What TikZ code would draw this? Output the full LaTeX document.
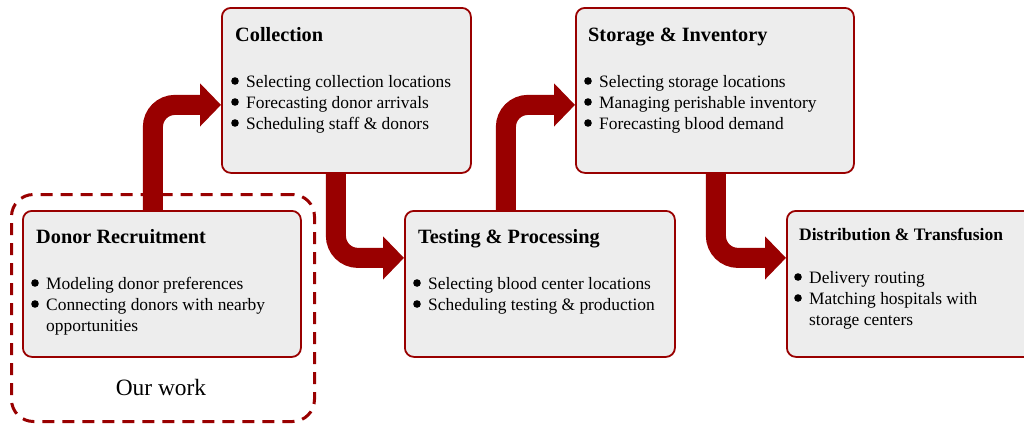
\documentclass[tikz,border=0pt]{standalone}
\usepackage{fontspec}
\setmainfont{Liberation Serif}
\usetikzlibrary{arrows.meta}
\definecolor{dred}{RGB}{153,0,0}
\definecolor{boxfill}{RGB}{237,237,237}
\tikzset{
  stage/.style={draw=dred, line width=1.8pt, fill=boxfill, rounded corners=9pt, anchor=north west, inner sep=0pt},
  ttl/.style={anchor=base west, font=\bfseries\fontsize{20.3}{22}\selectfont, inner sep=0pt},
  ttlsmall/.style={anchor=base west, font=\bfseries\fontsize{17.5}{19}\selectfont, inner sep=0pt},
  itm/.style={anchor=base west, font=\fontsize{17.4}{21}\selectfont, inner sep=0pt, align=left},
  bul/.style={circle, fill=black, minimum size=7.6pt, inner sep=0pt},
  flow/.style={draw=dred, line width=20pt, rounded corners=22pt, -{Triangle[length=21pt,width=42pt]}},
  ourbox/.style={draw=dred, line width=3pt, dash pattern=on 12pt off 8pt, rounded corners=22pt, anchor=north west, inner sep=0pt}
}
\begin{document}
\begin{tikzpicture}[x=1pt,y=1pt]
\useasboundingbox (0,0) rectangle (1024,-424);
% dashed frame
\node[ourbox, minimum width=303pt, minimum height=227pt] (frame) at (10,-193) {};
% boxes
\node[stage, minimum width=278pt, minimum height=146pt] (donor) at (22,-210) {};
\node[stage, minimum width=249pt, minimum height=165pt] (coll) at (221,-7) {};
\node[stage, minimum width=270pt, minimum height=146pt] (test) at (404,-210) {};
\node[stage, minimum width=278pt, minimum height=165pt] (stor) at (575,-7) {};
\node[stage, minimum width=260pt, minimum height=146pt] (dist) at (786,-210) {};
% arrows
\draw[flow] ([xshift=-9pt]donor.north) |- ([yshift=-14.5pt]coll.west);
\draw[flow] ([xshift=-10.5pt]coll.south) |- ([yshift=26pt]test.west);
\draw[flow] ([xshift=-34pt]test.north) |- ([yshift=-14.5pt]stor.west);
\draw[flow] ([xshift=1pt]stor.south) |- ([yshift=26pt]dist.west);
% Donor
\node[ttl] (t1) at (36,-243) {Donor Recruitment};
\node[bul] (b11) at (35,-283) {};
\node[itm] (i11) at (46,-289) {Modeling donor preferences};
\node[bul] (b12) at (35,-304) {};
\node[itm] (i12) at (46,-310) {Connecting donors with nearby};
\node[itm] (i13) at (46,-331) {opportunities};
\node[anchor=base, font=\fontsize{23.4}{26}\selectfont, inner sep=0pt] (our) at (161,-395) {Our work};
% Collection
\node[ttl] (t2) at (235,-41) {Collection};
\node[bul] (b21) at (235,-81) {};
\node[itm] (i21) at (246,-87) {Selecting collection locations};
\node[bul] (b22) at (235,-102) {};
\node[itm] (i22) at (246,-108) {Forecasting donor arrivals};
\node[bul] (b23) at (235,-123) {};
\node[itm] (i23) at (246,-129) {Scheduling staff \& donors};
% Testing
\node[ttl] (t3) at (418,-243) {Testing \& Processing};
\node[bul] (b31) at (417,-283) {};
\node[itm] (i31) at (428,-289) {Selecting blood center locations};
\node[bul] (b32) at (417,-304) {};
\node[itm] (i32) at (428,-310) {Scheduling testing \& production};
% Storage
\node[ttl] (t4) at (588,-41) {Storage \& Inventory};
\node[bul] (b41) at (588,-81) {};
\node[itm] (i41) at (599,-87) {Selecting storage locations};
\node[bul] (b42) at (588,-102) {};
\node[itm] (i42) at (599,-108) {Managing perishable inventory};
\node[bul] (b43) at (588,-123) {};
\node[itm] (i43) at (599,-129) {Forecasting blood demand};
% Distribution
\node[ttlsmall] (t5) at (799,-240) {Distribution \& Transfusion};
\node[bul] (b51) at (798,-277) {};
\node[itm] (i51) at (809,-283) {Delivery routing};
\node[bul] (b52) at (798,-298) {};
\node[itm] (i52) at (809,-304) {Matching hospitals with};
\node[itm] (i53) at (809,-325) {storage centers};
\end{tikzpicture}
\end{document}
